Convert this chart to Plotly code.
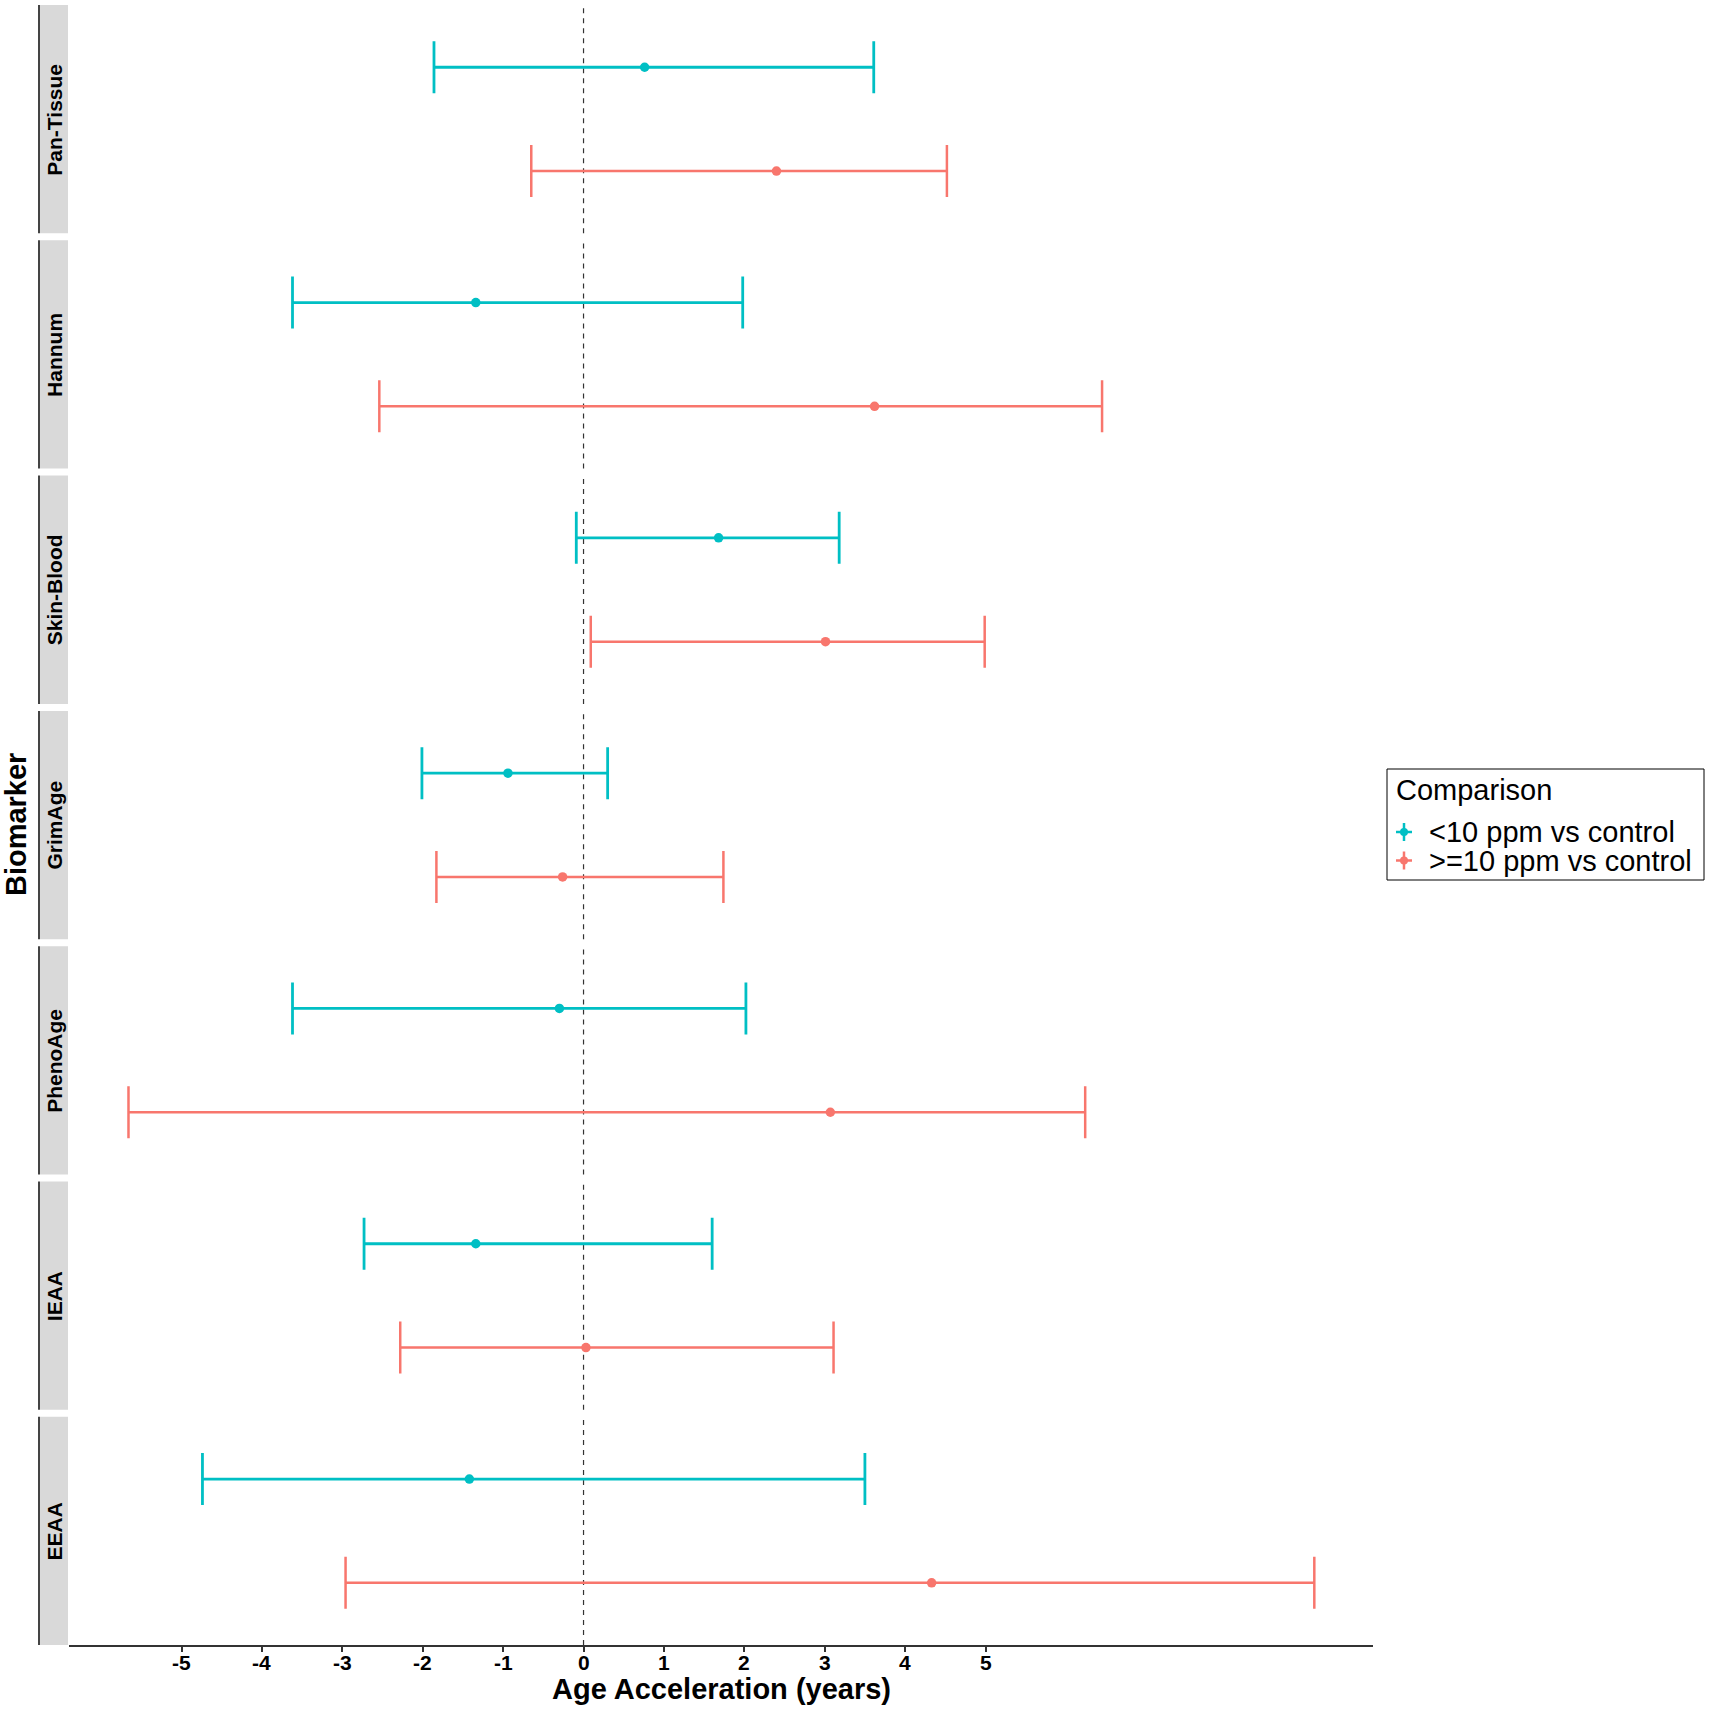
import plotly.graph_objects as go

W, H = 1711, 1710

# ---------------- data ----------------
biomarkers = ["Pan-Tissue", "Hannum", "Skin-Blood", "GrimAge", "PhenoAge", "IEAA", "EEAA"]
comparisons = ["<10 ppm vs control", ">=10 ppm vs control"]
colors = ["#00BFC4", "#F8766D"]

est_low = [0.76, -1.34, 1.68, -0.94, -0.30, -1.34, -1.42]
lo_low = [-1.86, -3.62, -0.09, -2.01, -3.62, -2.73, -4.74]
hi_low = [3.61, 1.98, 3.18, 0.30, 2.02, 1.60, 3.50]

est_high = [2.40, 3.62, 3.01, -0.26, 3.07, 0.03, 4.33]
lo_high = [-0.65, -2.54, 0.09, -1.83, -5.66, -2.28, -2.96]
hi_high = [4.52, 6.45, 4.99, 1.74, 6.24, 3.11, 9.09]

x_ticks = [-5, -4, -3, -2, -1, 0, 1, 2, 3, 4, 5]
x_tick_labels = ["-5", "-4", "-3", "-2", "-1", "0", "1", "2", "3", "4", "5"]
x_range = [-6.40, 9.82]

FONT = "Liberation Sans, Arial, sans-serif"

# ---------------- geometry (pixels) ----------------
panel_left, panel_right = 69, 1373
strip_left, strip_right = 39, 68
top0, ph, gap = 5, 228.3, 7.0

def px_x(v):
    return v / W

def px_y(v):
    return 1 - v / H

fig = go.Figure()
shapes = []
annotations = []

series = [
    (est_low, lo_low, hi_low, 2, colors[0], comparisons[0], 2.8),
    (est_high, lo_high, hi_high, 1, colors[1], comparisons[1], 2.5),
]

n_panels = len(biomarkers)
last_xa = "x" + str(n_panels)
for i, bm in enumerate(biomarkers):
    n = i + 1
    xa = "x" if n == 1 else f"x{n}"
    ya = "y" if n == 1 else f"y{n}"
    top = top0 + i * (ph + gap)
    bot = top + ph
    for est, lo, hi, ypos, col, name, thick in series:
        fig.add_trace(go.Scatter(
            x=[est[i]], y=[ypos], xaxis=xa, yaxis=ya,
            mode="markers", name=name, showlegend=False,
            marker=dict(color=col, size=9.5),
            error_x=dict(type="data", symmetric=False,
                         array=[hi[i] - est[i]], arrayminus=[est[i] - lo[i]],
                         color=col, thickness=thick, width=26),
            hovertemplate=f"{bm}<br>{name}<br>%{{x:.2f}}<extra></extra>",
        ))
    last = (n == n_panels)
    fig.layout[f"xaxis{n}" if n > 1 else "xaxis"] = dict(
        domain=[px_x(panel_left), px_x(panel_right)],
        range=x_range, anchor=ya, showgrid=False, zeroline=False,
        showticklabels=False, ticks="outside" if last else "",
        tickvals=x_ticks if last else None,
        ticklen=5, tickwidth=1.5, tickcolor="#333333",
        showline=last, linecolor="#333333", linewidth=1.5,
        matches=None if last else last_xa,
    )
    fig.layout[f"yaxis{n}" if n > 1 else "yaxis"] = dict(
        domain=[px_y(bot), px_y(top)], range=[0.4, 2.6], anchor=xa,
        showgrid=False, zeroline=False, showticklabels=False, showline=False, ticks="",
    )
    # dashed zero reference line
    shapes.append(dict(type="line", xref=xa, yref=f"{ya} domain", x0=0, x1=0, y0=0, y1=1,
                       line=dict(color="#333333", width=1.2, dash="5px,5px"), layer="below"))
    # strip
    shapes.append(dict(type="rect", xref="paper", yref="paper",
                       x0=px_x(strip_left + 1), x1=px_x(strip_right), y0=px_y(bot), y1=px_y(top),
                       fillcolor="#D9D9D9", line=dict(width=0), layer="below"))
    shapes.append(dict(type="line", xref="paper", yref="paper",
                       x0=px_x(strip_left), x1=px_x(strip_left), y0=px_y(bot), y1=px_y(top),
                       line=dict(color="#444444", width=2)))
    annotations.append(dict(text=f"<b>{bm}</b>", xref="paper", yref="paper",
                            x=px_x((strip_left + strip_right) / 2 + 1), y=px_y((top + bot) / 2),
                            textangle=-90, showarrow=False, xanchor="center", yanchor="middle",
                            font=dict(family=FONT, size=21, color="black")))

# x tick labels (placed through the bottom axis' data scale)
for tv, tl in zip(x_ticks, x_tick_labels):
    annotations.append(dict(text=f"<b>{tl}</b>", xref=last_xa, yref="paper",
                            x=tv, y=px_y(1662), showarrow=False,
                            xanchor="center", yanchor="middle",
                            font=dict(family=FONT, size=21, color="black")))

# axis titles
annotations.append(dict(text="<b>Age Acceleration (years)</b>", xref="paper", yref="paper",
                        x=px_x((panel_left + panel_right) / 2), y=px_y(1689),
                        showarrow=False, xanchor="center", yanchor="middle",
                        font=dict(family=FONT, size=29, color="black")))
annotations.append(dict(text="<b>Biomarker</b>", xref="paper", yref="paper",
                        x=px_x(16), y=px_y((top0 + top0 + 7 * ph + 6 * gap) / 2),
                        textangle=-90, showarrow=False, xanchor="center", yanchor="middle",
                        font=dict(family=FONT, size=29, color="black")))

# legend (drawn manually)
lx0, lx1, ly0, ly1 = 1387, 1704, 769, 880
shapes.append(dict(type="rect", xref="paper", yref="paper",
                   x0=px_x(lx0), x1=px_x(lx1), y0=px_y(ly1), y1=px_y(ly0),
                   line=dict(color="black", width=1), fillcolor="white"))
annotations.append(dict(text="Comparison", xref="paper", yref="paper",
                        x=px_x(1394), y=px_y(790), showarrow=False,
                        xanchor="left", yanchor="middle",
                        font=dict(family=FONT, size=29, color="black")))
for k, (name, col) in enumerate(zip(comparisons, colors)):
    cy = 832 + k * 28.5
    cx = 1404
    shapes.append(dict(type="line", xref="paper", yref="paper",
                       x0=px_x(cx - 8), x1=px_x(cx + 8), y0=px_y(cy), y1=px_y(cy),
                       line=dict(color=col, width=2.5)))
    shapes.append(dict(type="line", xref="paper", yref="paper",
                       x0=px_x(cx), x1=px_x(cx), y0=px_y(cy - 9), y1=px_y(cy + 9),
                       line=dict(color=col, width=2.5)))
    shapes.append(dict(type="circle", xref="paper", yref="paper",
                       x0=px_x(cx - 4), x1=px_x(cx + 4), y0=px_y(cy + 4), y1=px_y(cy - 4),
                       fillcolor=col, line=dict(width=0)))
    annotations.append(dict(text=name, xref="paper", yref="paper",
                            x=px_x(1427), y=px_y(cy), showarrow=False,
                            xanchor="left", yanchor="middle",
                            font=dict(family=FONT, size=29, color="black")))

fig.update_layout(
    width=W, height=H, autosize=False,
    margin=dict(l=0, r=0, t=0, b=0),
    paper_bgcolor="white", plot_bgcolor="white",
    showlegend=False, shapes=shapes, annotations=annotations,
    font=dict(family=FONT, color="black"),
)

fig.write_html("out.html", config={"displayModeBar": False},
               post_script="document.body.style.margin='0';document.body.style.overflow='hidden';")
